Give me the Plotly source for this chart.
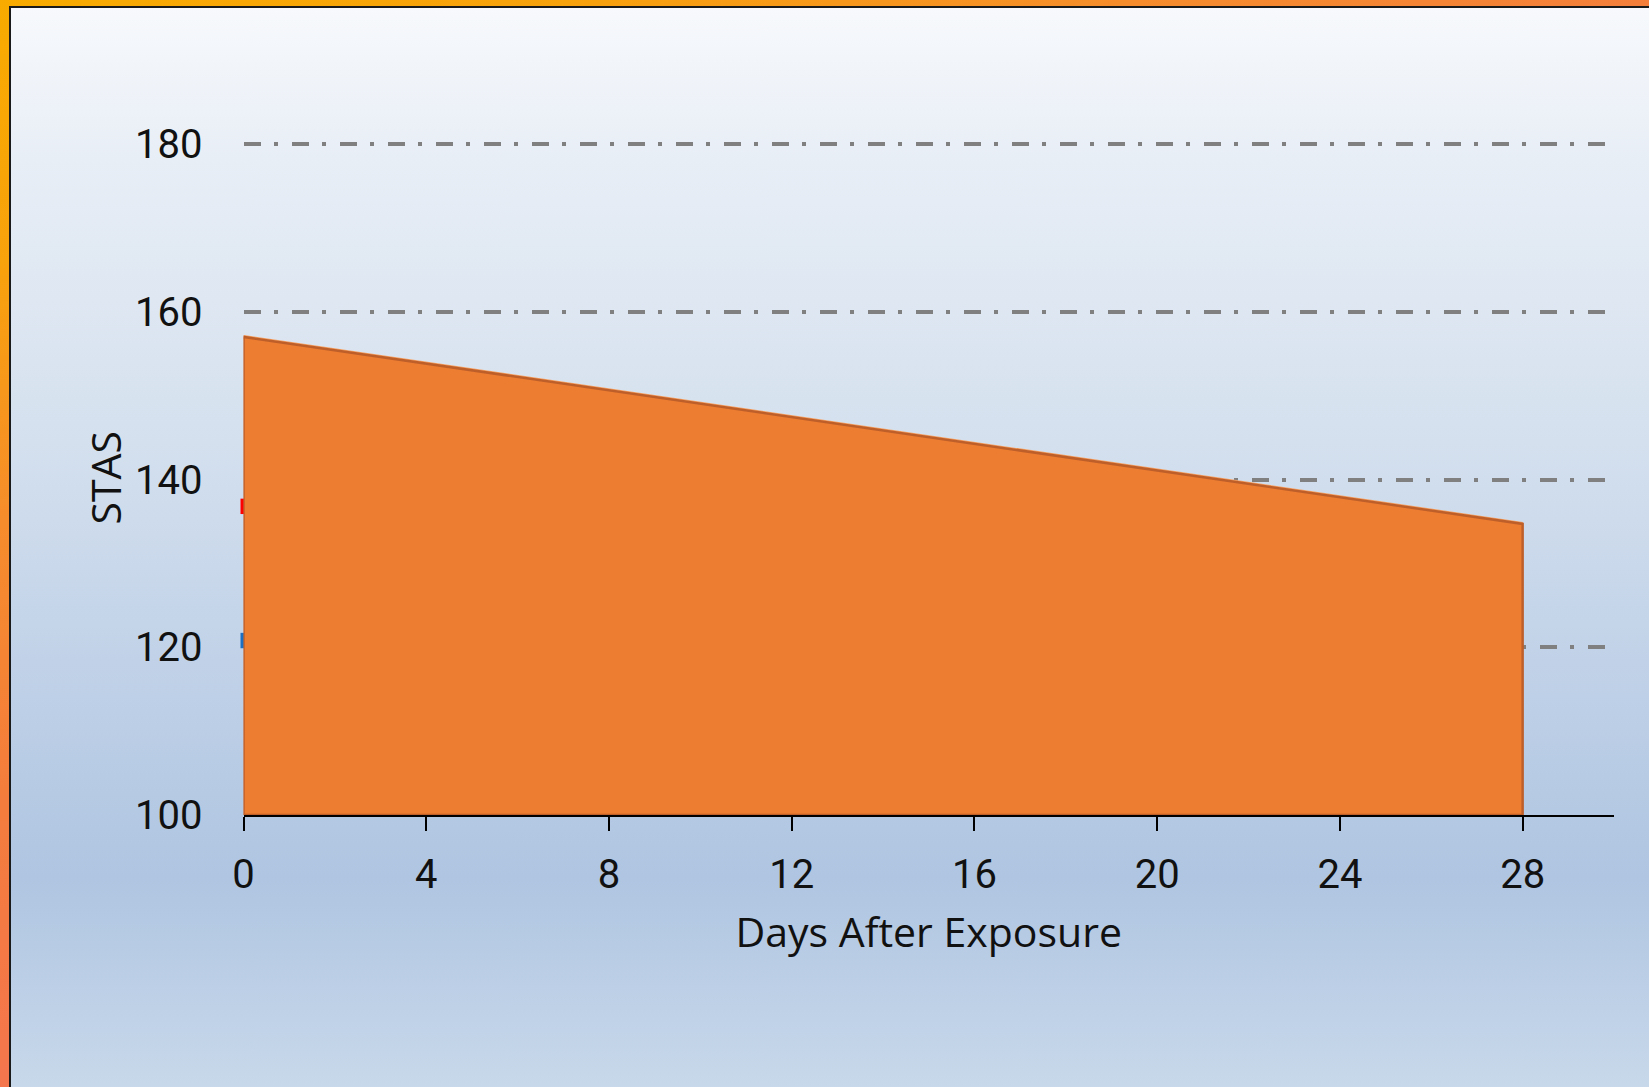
import base64
import plotly.graph_objects as go

# STAS readings over the days after exposure
days = [0, 28]
stas = [157.0, 134.7]

# reference levels marked on the STAS axis
red_level = 136.8
blue_level = 120.8

y_ticks = [100, 120, 140, 160, 180]
x_ticks = [0, 4, 8, 12, 16, 20, 24, 28]

W, H = 1649, 1087

# framed panel background: orange rim, thin dark keyline, soft blue vertical wash
svg = f"""<svg xmlns='http://www.w3.org/2000/svg' width='{W}' height='{H}' viewBox='0 0 {W} {H}' preserveAspectRatio='none'>
<defs>
<linearGradient id='rim' gradientUnits='userSpaceOnUse' x1='0' y1='0' x2='500' y2='{H}'>
<stop offset='0' stop-color='#F9AB00'/>
<stop offset='0.2' stop-color='#F8A20C'/>
<stop offset='0.4' stop-color='#F68C2C'/>
<stop offset='0.6' stop-color='#F47D3C'/>
<stop offset='0.85' stop-color='#F4754F'/>
<stop offset='1' stop-color='#F36E56'/>
</linearGradient>
<linearGradient id='wash' x1='0' y1='0' x2='0' y2='1'>
<stop offset='0' stop-color='#F7F9FC'/>
<stop offset='0.14' stop-color='#E8EEF6'/>
<stop offset='0.4' stop-color='#D4E0EE'/>
<stop offset='0.6' stop-color='#C1D2E8'/>
<stop offset='0.8' stop-color='#AFC5E1'/>
<stop offset='1' stop-color='#C9D9EB'/>
</linearGradient>
</defs>
<rect x='0' y='0' width='{W}' height='{H}' fill='url(#rim)'/>
<rect x='9' y='6' width='{W}' height='{H}' fill='#1a1a1a'/>
<rect x='11' y='8' width='{W}' height='{H}' fill='url(#wash)'/>
</svg>"""
bg_uri = "data:image/svg+xml;base64," + base64.b64encode(svg.encode()).decode()

y_floor = y_ticks[0]
area_x = [days[0]] + days + [days[-1], days[0]]
area_y = [y_floor] + stas + [y_floor, y_floor]

fig = go.Figure()

fig.add_trace(go.Scatter(
    x=[days[0]], y=[red_level], mode="markers", cliponaxis=False,
    marker=dict(symbol="line-ns", size=11, line=dict(color="#FF0000", width=6)),
    showlegend=False, hoverinfo="skip",
))
fig.add_trace(go.Scatter(
    x=[days[0]], y=[blue_level], mode="markers", cliponaxis=False,
    marker=dict(symbol="line-ns", size=11, line=dict(color="#1E6FC0", width=6)),
    showlegend=False, hoverinfo="skip",
))
# light highlight along the top edge of the band
fig.add_trace(go.Scatter(
    x=days, y=stas, mode="lines", line=dict(color="#F7A060", width=4),
    showlegend=False, hoverinfo="skip", cliponaxis=False,
))
fig.add_trace(go.Scatter(
    x=area_x, y=area_y, mode="lines", fill="toself",
    fillcolor="#ED7D31", line=dict(color="#BE5F2A", width=2.5),
    showlegend=False, cliponaxis=False,
))

tick_family = "Roboto, sans-serif"
title_family = "'Open Sans', Roboto, sans-serif"

# pixel geometry of the plotting area
px_per_unit = 8.39
y_top_val = 180.4
y_bottom_px = 815
y_top_px = 144 - (y_top_val - 180) * px_per_unit

fig.update_layout(
    width=W, height=H,
    margin=dict(l=0, r=0, t=0, b=0, autoexpand=False),
    paper_bgcolor="rgba(0,0,0,0)",
    plot_bgcolor="rgba(0,0,0,0)",
    font=dict(family=tick_family, size=40, color="#111111"),
    images=[dict(source=bg_uri, xref="paper", yref="paper", x=0, y=1,
                 sizex=1, sizey=1, sizing="stretch", layer="below",
                 xanchor="left", yanchor="top")],
    xaxis=dict(
        domain=[243.5 / W, 1614 / W],
        range=[0, 30],
        tickvals=x_ticks,
        automargin=False,
        showgrid=False, zeroline=False,
        showline=True, linecolor="#000000", linewidth=2,
        ticks="outside", ticklen=14, tickwidth=2, tickcolor="#000000",
        tickfont=dict(size=40),
        ticklabelstandoff=9,
        title=dict(text="Days After Exposure",
                   font=dict(family=title_family, size=41), standoff=21),
    ),
    yaxis=dict(
        domain=[(H - y_bottom_px) / H, (H - y_top_px) / H],
        range=[100, y_top_val],
        tickvals=y_ticks,
        automargin=False,
        showline=False, zeroline=False, ticks="",
        showgrid=True, gridcolor="#808080", gridwidth=3.5,
        griddash="17.5px,13.3px,4px,13.2px",
        tickfont=dict(size=40),
        ticklabelstandoff=40,
        title=dict(text="STAS",
                   font=dict(family=title_family, size=41), standoff=0),
    ),
)

fig.write_html("out.html")
